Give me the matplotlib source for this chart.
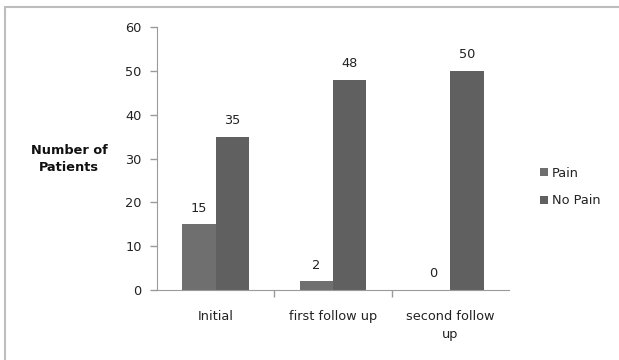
import numpy as np
import matplotlib.pyplot as plt
from matplotlib.patches import Rectangle

categories = ['Initial', 'first follow up', 'second follow\nup']
pain = [15, 2, 0]
no_pain = [35, 48, 50]
series_names = ['Pain', 'No Pain']
yticks = [0, 10, 20, 30, 40, 50, 60]

plt.rcParams['font.family'] = 'DejaVu Sans'
txt = '#222222'
axcol = '#9a9a9a'
fs = 9.3

fig = plt.figure(figsize=(6.19, 3.60), dpi=100)
ax = fig.add_axes([0.2536, 0.1944, 0.5687, 0.7298])

x = np.arange(len(categories))
w = 0.285
b1 = ax.bar(x - w/2, pain, w, color='#6f6f6f', label=series_names[0])
b2 = ax.bar(x + w/2, no_pain, w, color='#606060', label=series_names[1])

for bars in (b1, b2):
    for r in bars:
        ax.annotate('%d' % r.get_height(), (r.get_x() + r.get_width()/2, r.get_height()),
                    xytext=(0, 7), textcoords='offset points', ha='center', va='bottom',
                    fontsize=fs, color=txt)

ax.set_xlim(-0.5, 2.5)
ax.set_ylim(0, 60)
ax.set_yticks(yticks)
ax.tick_params(axis='y', labelsize=fs, colors=axcol, labelcolor=txt, length=5, width=1, pad=6)

# category labels sit between the boundary ticks
ax.set_xticks([0.5, 1.5])
ax.set_xticklabels([])
ax.tick_params(axis='x', colors=axcol, length=5, width=1)
for i, c in enumerate(categories):
    ax.text(i, -4.6, c, ha='center', va='top', fontsize=fs, color=txt, linespacing=1.45)

for s in ['top', 'right']:
    ax.spines[s].set_visible(False)
for s in ['left', 'bottom']:
    ax.spines[s].set_color(axcol)

fig.text(69/619, 1 - 159/360, 'Number of\nPatients', ha='center', va='center',
         fontsize=fs, fontweight='bold', color='#111111', linespacing=1.4)

leg = fig.legend(handles=[b1, b2], loc='center left', bbox_to_anchor=(535/619, 1 - 187/360),
                 frameon=False, fontsize=fs, handlelength=0.6, handleheight=0.6,
                 handletextpad=0.3, labelspacing=1.15, borderaxespad=0)
for t in leg.get_texts():
    t.set_color(txt)

fig.patches.append(Rectangle((5/619, -0.05), 1.1, 1.05 - 7/360, transform=fig.transFigure,
                             fill=False, edgecolor='#bdbdbd', lw=1.5))

plt.savefig('out.png', dpi=100)
